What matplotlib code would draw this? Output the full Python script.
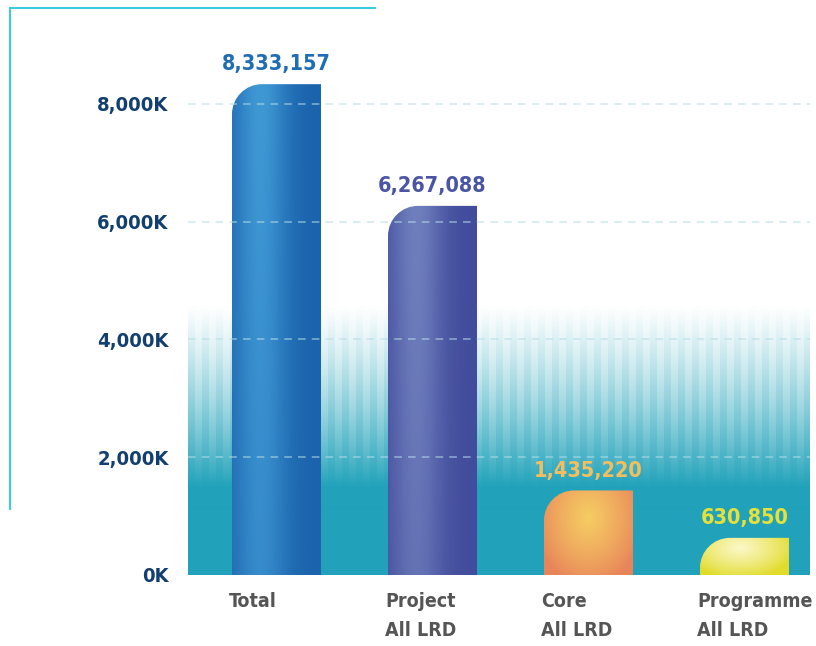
import matplotlib
matplotlib.use("Agg")
import matplotlib.pyplot as plt
import numpy as np
from matplotlib.path import Path
from matplotlib.patches import PathPatch
from matplotlib.lines import Line2D
from matplotlib.colors import to_rgb

plt.rcParams["font.family"] = ["DejaVu Sans"]
plt.rcParams["font.stretch"] = "condensed"

# Data
categories = ["Total", "Project\nAll LRD", "Core\nAll LRD", "Programme\nAll LRD"]
values = [8333157, 6267088, 1435220, 630850]
value_labels = ["8,333,157", "6,267,088", "1,435,220", "630,850"]
yticks = [0, 2000000, 4000000, 6000000, 8000000]
ytick_labels = ["0K", "2,000K", "4,000K", "6,000K", "8,000K"]

# Styles
LABEL_COLORS = ["#1f6db5", "#4a55a5", "#f3bf5e", "#e6e03a"]
TICK_COLOR = "#123f70"
XLABEL_COLOR = "#555555"
TEAL = "#21a2ba"
FRAME = "#3ccbe0"

W, H = 816, 646
fig = plt.figure(figsize=(W / 100, H / 100), dpi=100)
fig.patch.set_facecolor("white")

ax_left, ax_right, ax_bottom = 188, 810, 575
ax = fig.add_axes([ax_left / W, (H - ax_bottom) / H, (ax_right - ax_left) / W, ax_bottom / H])
ax.set_facecolor("none")

px_per_val = 58.9 / 1e6
ax.set_ylim(0, ax_bottom / px_per_val)
slot = 156
x = np.arange(len(values))
ax.set_xlim(-88.5 / slot, 3 + (ax_right - ax_left - 556.5) / slot)
width = 89 / slot

for s in ax.spines.values():
    s.set_visible(False)
ax.set_xticks([])
ax.set_yticks(yticks)
ax.set_yticklabels(ytick_labels, fontsize=14.5, fontweight="bold", color=TICK_COLOR,
                   fontstretch="condensed")
ax.tick_params(axis="y", length=0, pad=14)

# teal background band with fading stripes
xl = ax.get_xlim()
band_top = 4.6e6
band_solid = 1.5e6
ny, nx = 300, 622
yy = np.linspace(0, band_top, ny)[:, None]
xx = np.arange(nx)[None, :]
fade = np.clip((band_top - yy) / (band_top - band_solid), 0, 1) ** 1.1
stripes = np.where((xx // 7) % 2 == 0, 0.0, 1.0)
alpha = fade * (1 - 0.4 * stripes * (1 - fade))
alpha = np.clip(alpha, 0, 1)
rgba = np.zeros((ny, nx, 4))
rgba[..., :3] = to_rgb(TEAL)
rgba[..., 3] = alpha
ax.imshow(rgba, extent=(xl[0], xl[1], 0, band_top), origin="lower",
          aspect="auto", zorder=0, interpolation="bilinear")


def bar_path(x0, x1, h, rx, ry):
    k = 0.5523
    rx = min(rx, x1 - x0)
    ry = min(ry, h)
    verts = [(x0, 0), (x0, h - ry),
             (x0, h - ry + k * ry), (x0 + rx - k * rx, h), (x0 + rx, h),
             (x1, h), (x1, 0), (x0, 0)]
    codes = [Path.MOVETO, Path.LINETO, Path.CURVE4, Path.CURVE4, Path.CURVE4,
             Path.LINETO, Path.LINETO, Path.CLOSEPOLY]
    return Path(verts, codes)


def linear_grad(dark, light, n=200):
    u = np.linspace(0, 1, n)[None, :]
    v = np.linspace(0, 1, n)[:, None]
    prof = np.exp(-((u - 0.32) / 0.3) ** 2)
    prof = prof * (0.75 + 0.25 * v)
    d = np.array(to_rgb(dark))
    l = np.array(to_rgb(light))
    return d + (l - d) * prof[..., None]


def radial_grad(edge, center, cx, cy, n=200):
    u = np.linspace(0, 1, n)[None, :]
    v = np.linspace(0, 1, n)[:, None]
    r = np.sqrt(((u - cx) / 0.6) ** 2 + ((v - cy) / 0.8) ** 2)
    prof = np.clip(1 - r, 0, 1) ** 0.8
    e = np.array(to_rgb(edge))
    c = np.array(to_rgb(center))
    return e + (c - e) * prof[..., None]


grads = [
    linear_grad("#1b64ad", "#3f98d4"),
    linear_grad("#424c9c", "#6f7fbd"),
    radial_grad("#e8845a", "#f6cd63", 0.5, 0.68),
    radial_grad("#e1dc2c", "#fcf8c8", 0.45, 0.72),
]

rx = 30 / slot
ry = 30 / px_per_val
for i, v in enumerate(values):
    x0, x1 = x[i] - width / 2, x[i] + width / 2
    patch = PathPatch(bar_path(x0, x1, v, rx, ry), facecolor="none", edgecolor="none", zorder=2)
    ax.add_patch(patch)
    im = ax.imshow(grads[i], extent=(x0, x1, 0, v), origin="lower", aspect="auto",
                   zorder=2, interpolation="bilinear")
    im.set_clip_path(patch)
    ax.annotate(value_labels[i], xy=(x[i], v), xytext=(0, 7), textcoords="offset points",
                ha="center", va="bottom", fontsize=15.5, fontweight="bold",
                fontstretch="condensed", color=LABEL_COLORS[i], zorder=5)
    ax.annotate(categories[i], xy=(x0 - 0.02, 0), xytext=(0, -12), textcoords="offset points",
                ha="left", va="top", fontsize=14, fontweight="bold", color=XLABEL_COLOR,
                fontstretch="condensed", linespacing=1.7, annotation_clip=False)

ax.set_xlim(xl)
ax.set_ylim(0, ax_bottom / px_per_val)

for t in yticks[1:]:
    ax.axhline(t, color="#b5dde6", alpha=0.65, lw=1.1, ls=(0, (5, 4)), zorder=3)

# frame lines
fig.add_artist(Line2D([10 / W, 10 / W], [1 - 8 / H, 1 - 509 / H], color=FRAME, lw=1.5))
fig.add_artist(Line2D([10 / W, 375 / W], [1 - 8 / H, 1 - 8 / H], color=FRAME, lw=1.5))

fig.savefig("out.png", dpi=100, facecolor="white")
